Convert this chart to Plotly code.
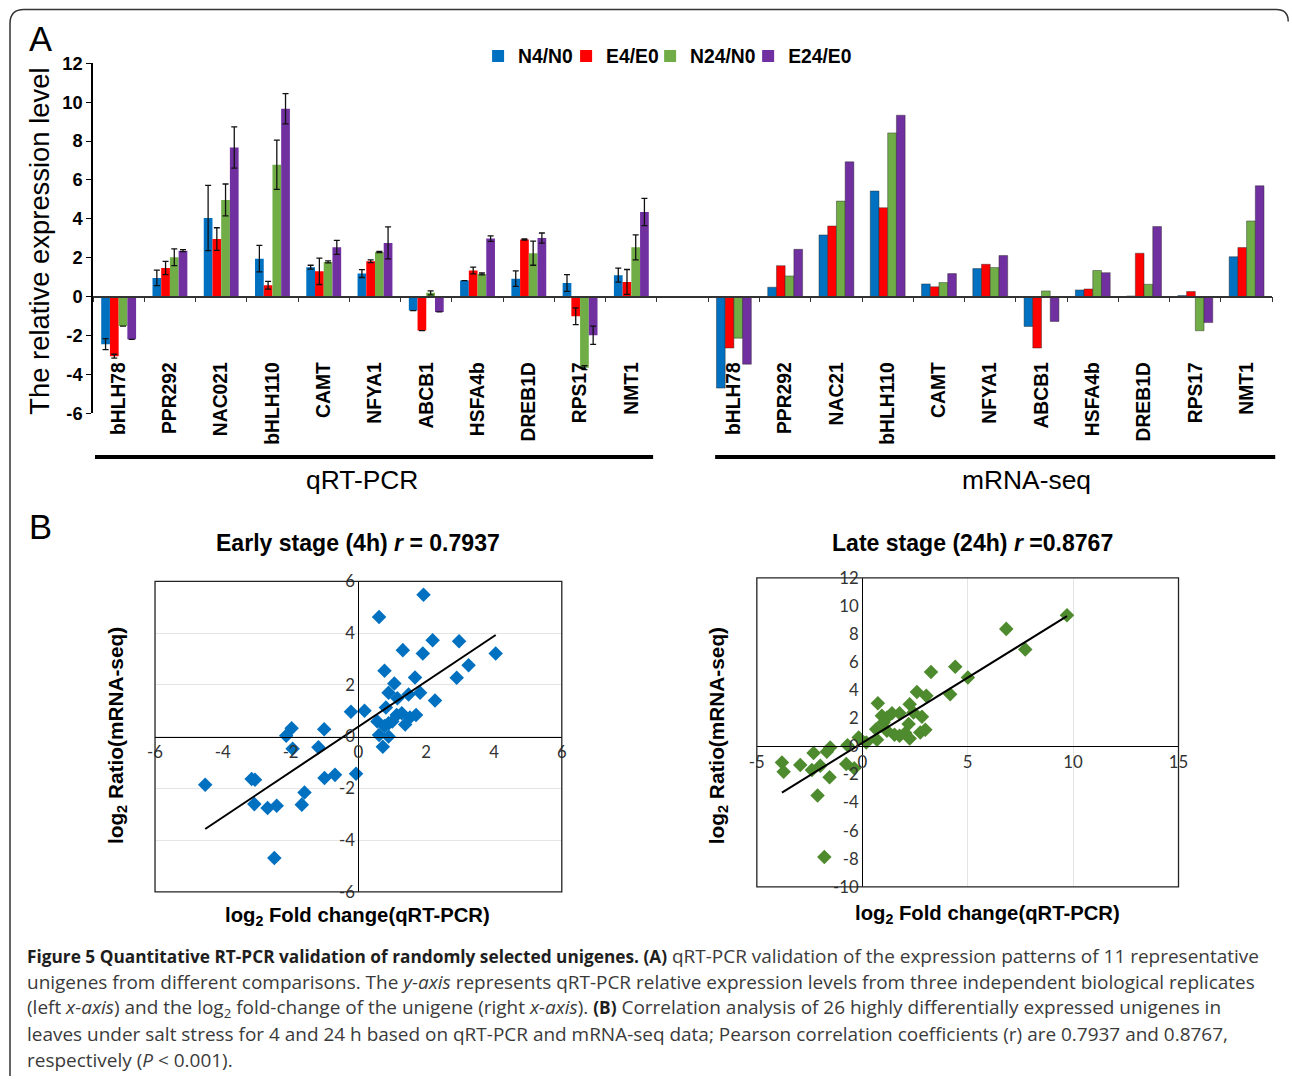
import numpy as np
import plotly.graph_objects as go

# The page is photographed with a body margin and a slight downscale;
# compensate so that figure elements land at the reference pixel positions.
OX, OY = 8, 9.5
SX, SY = 0.986, 0.984
FS = 1 / 0.985
W = int(round((1292 - OX) / SX))
H = int(round((1081 - OY) / SY))
def px(x): return ((x - OX) / SX) / W
def py(y): return 1 - ((y - OY) / SY) / H
def fs(s): return round(s * FS, 2)

# ---------------- data: panel A ----------------
series = ["N4/N0", "E4/E0", "N24/N0", "E24/E0"]
colors = ["#0070C0", "#FF0000", "#70AD47", "#7030A0"]

genes_qpcr = ["bHLH78", "PPR292", "NAC021", "bHLH110", "CAMT", "NFYA1",
              "ABCB1", "HSFA4b", "DREB1D", "RPS17", "NMT1"]
genes_seq = ["bHLH78", "PPR292", "NAC21", "bHLH110", "CAMT", "NFYA1",
             "ABCB1", "HSFA4b", "DREB1D", "RPS17", "NMT1"]

qpcr_N4 = [-2.45, 0.96, 4.04, 1.95, 1.51, 1.18, -0.72, 0.82, 0.92, 0.70, 1.10]
qpcr_E4 = [-3.07, 1.47, 2.96, 0.58, 1.30, 1.82, -1.75, 1.34, 2.93, -1.01, 0.75]
qpcr_N24 = [-1.52, 2.02, 4.97, 6.78, 1.78, 2.29, 0.19, 1.16, 2.23, -3.66, 2.53]
qpcr_E24 = [-2.20, 2.36, 7.67, 9.66, 2.53, 2.76, -0.79, 2.98, 3.01, -1.99, 4.35]

err_N4 = [0.28, 0.40, 1.68, 0.68, 0.10, 0.20, 0.0, 0.0, 0.40, 0.43, 0.36]
err_E4 = [0.10, 0.34, 0.58, 0.20, 0.68, 0.07, 0.0, 0.17, 0.03, 0.43, 0.64]
err_N24 = [0.0, 0.43, 0.82, 1.27, 0.05, 0.03, 0.10, 0.05, 0.62, 0.10, 0.64]
err_E24 = [0.0, 0.05, 1.06, 0.78, 0.36, 0.82, 0.0, 0.14, 0.26, 0.47, 0.70]

seq_N4 = [-4.71, 0.48, 3.17, 5.43, 0.65, 1.44, -1.54, 0.34, 0.03, 0.05, 2.05]
seq_E4 = [-2.65, 1.59, 3.63, 4.57, 0.50, 1.66, -2.65, 0.39, 2.23, 0.26, 2.52]
seq_N24 = [-2.14, 1.06, 4.91, 8.42, 0.72, 1.49, 0.29, 1.34, 0.63, -1.76, 3.89]
seq_E24 = [-3.48, 2.43, 6.93, 9.33, 1.18, 2.11, -1.28, 1.23, 3.60, -1.34, 5.70]

y_ticks_A = [-6, -4, -2, 0, 2, 4, 6, 8, 10, 12]

# ---------------- data: panel B ----------------
early_qpcr = [1.92, 0.61, 2.19, 2.97, 1.31, 1.90, 4.05, 3.25, 0.77, 1.67, 2.90, 1.06,
              0.89, 1.82, 1.15, 1.48, 2.26, -0.22, 0.18, 0.81, 1.13, 1.28, 1.70, 1.52,
              0.56, 0.89, 0.77, 1.38, 1.00, 0.61, 0.89, 0.72, -1.97, -2.13, -1.94, -1.01,
              -1.18, -4.52, -3.15, -3.05, -1.00, -0.69, -0.07, -1.59, -3.07, -1.67, -2.68,
              -2.41, -2.48]
early_seq = [5.48, 4.62, 3.72, 3.68, 3.34, 3.21, 3.21, 2.76, 2.54, 2.28, 2.27, 2.05,
             1.69, 1.69, 1.48, 1.63, 1.39, 0.96, 1.00, 1.12, 0.83, 0.90, 0.83, 0.74,
             0.58, 0.51, 0.41, 0.47, 0.58, 0.06, 0.00, -0.39, 0.32, 0.03, -0.47, 0.28,
             -0.41, -1.86, -1.64, -1.67, -1.60, -1.48, -1.44, -2.16, -2.61, -2.63, -2.76,
             -2.67, -4.69]

late_qpcr = [9.71, 6.83, 7.73, 4.41, 3.26, 5.01, 4.17, 2.59, 3.04, 0.74, 2.25, 1.41,
             1.77, 0.93, 1.17, 2.83, 2.43, 2.20, 1.01, 0.66, 1.17, 1.53, 1.77, 2.04,
             2.25, 2.75, 2.99, 0.70, 0.19, -0.17, -0.70, -1.52, -1.68, -2.31, -3.81,
             -3.73, -2.94, -1.99, -2.39, -0.76, -0.38, -1.55, -2.12, -1.80]
late_seq = [9.34, 8.37, 6.91, 5.68, 5.30, 4.90, 3.71, 3.88, 3.60, 3.08, 3.00, 2.37,
            2.37, 2.18, 2.06, 2.11, 2.41, 1.59, 1.70, 1.23, 1.11, 0.83, 0.76, 0.95,
            0.57, 0.99, 1.18, 0.47, 0.28, 0.64, 0.09, -0.07, -0.38, -0.47, -1.14,
            -1.80, -1.32, -1.37, -1.68, -1.25, -1.56, -2.20, -3.50, -7.88]

early_ticks = [-6, -4, -2, 0, 2, 4, 6]
late_xticks = [-5, 0, 5, 10, 15]
late_yticks = [-10, -8, -6, -4, -2, 0, 2, 4, 6, 8, 10, 12]

# ---------------- figure ----------------
fig = go.Figure()

x_left = list(range(len(genes_qpcr)))
x_right = [len(genes_qpcr) + 1 + i for i in range(len(genes_seq))]
n_cat = len(genes_qpcr) + 1 + len(genes_seq)
boundaries = [i - 0.5 for i in range(n_cat + 1)]

qpcr_vals = [qpcr_N4, qpcr_E4, qpcr_N24, qpcr_E24]
qpcr_errs = [err_N4, err_E4, err_N24, err_E24]
seq_vals = [seq_N4, seq_E4, seq_N24, seq_E24]

legend_x_px = [478, 566, 650, 748]
for k, (name, col) in enumerate(zip(series, colors)):
    leg = "legend" if k == 0 else f"legend{k+1}"
    fig.add_trace(go.Bar(
        x=x_left, y=qpcr_vals[k], name=name, marker=dict(color=col, line=dict(width=0)),
        offsetgroup=name, legendgroup=name, legend=leg,
        error_y=dict(type="data", array=qpcr_errs[k], color="#111", thickness=1.3, width=3),
        xaxis="x", yaxis="y"))
    fig.add_trace(go.Bar(
        x=x_right, y=seq_vals[k], name=name,
        marker=dict(color=col, line=dict(width=0.8, color="rgba(40,40,40,0.55)")),
        offsetgroup=name, legendgroup=name, showlegend=False,
        xaxis="x", yaxis="y"))

# helper (empty) traces to register the overlay axes
fig.add_trace(go.Scatter(x=[], y=[], xaxis="x2", yaxis="y", showlegend=False, hoverinfo="skip"))
fig.add_trace(go.Scatter(x=[], y=[], xaxis="x3", yaxis="y", showlegend=False, hoverinfo="skip"))

def fit_line(xs, ys):
    m, b = np.polyfit(xs, ys, 1)
    xx = np.array([min(xs), max(xs)])
    return xx, m * xx + b

fig.add_trace(go.Scatter(x=early_qpcr, y=early_seq, mode="markers",
                         marker=dict(symbol="diamond", size=fs(11), color="#0070C0"),
                         xaxis="x4", yaxis="y4", showlegend=False))
lx, ly = fit_line(early_qpcr, early_seq)
fig.add_trace(go.Scatter(x=lx, y=ly, mode="lines", line=dict(color="black", width=2),
                         xaxis="x4", yaxis="y4", showlegend=False))

fig.add_trace(go.Scatter(x=late_qpcr, y=late_seq, mode="markers",
                         marker=dict(symbol="diamond", size=fs(11), color="#4E8A2E"),
                         xaxis="x5", yaxis="y5", showlegend=False))
lx2, ly2 = fit_line(late_qpcr, late_seq)
fig.add_trace(go.Scatter(x=lx2, y=ly2, mode="lines", line=dict(color="black", width=2),
                         xaxis="x5", yaxis="y5", showlegend=False))

AR = "Liberation Sans"
ytickfont = dict(family=AR, size=fs(18), color="black", weight="bold")
xlabfont = dict(family=AR, size=fs(19), color="black", weight="bold")
legfont = dict(family=AR, size=fs(19), color="black", weight="bold")
tickfontB = dict(family="Lato", size=fs(16.5), color="#333")

def labels(vals):
    return [str(v) for v in vals]

xdomA = [px(93), px(1272)]
ydomA = [py(413), py(62)]

xd4 = [px(155), px(561.7)]; yd4 = [py(893.3), py(581.7)]
xd5 = [px(756.7), px(1178.3)]; yd5 = [py(888.3), py(578.3)]
r4x = [-6, 6]; r4y = [-6, 6]
r5x = [-5, 15]; r5y = [-10, 12]
def pos_at_zero(dom, rng):
    return dom[0] + (0 - rng[0]) / (rng[1] - rng[0]) * (dom[1] - dom[0])

layout = dict(
    width=W, height=H, margin=dict(l=0, r=0, t=0, b=0), autosize=False,
    paper_bgcolor="white", plot_bgcolor="rgba(0,0,0,0)",
    barmode="group", bargap=0.32, bargroupgap=0,
    xaxis=dict(domain=xdomA, range=[-0.5, n_cat - 0.5], showline=False, showticklabels=False,
               ticks="", showgrid=False, zeroline=False, anchor="y"),
    xaxis2=dict(overlaying="x", range=[-0.5, n_cat - 0.5], anchor="free", position=py(296),
                showline=True, linecolor="#333", linewidth=1.5, ticks="outside", ticklen=5,
                tickcolor="#333", tickwidth=1.3, tickmode="array", tickvals=boundaries,
                showticklabels=False, showgrid=False, zeroline=False),
    xaxis3=dict(overlaying="x", range=[-0.5, n_cat - 0.5], anchor="free", position=py(357),
                showline=False, ticks="", tickmode="array", tickvals=x_left + x_right,
                ticktext=genes_qpcr + genes_seq, tickangle=-90, tickfont=xlabfont,
                showgrid=False, zeroline=False),
    yaxis=dict(domain=ydomA, range=[-6, 12], tickmode="array", tickvals=y_ticks_A,
               ticktext=labels(y_ticks_A),
               showline=True, linecolor="black", linewidth=1.5, ticks="outside", ticklen=5,
               tickcolor="black", tickfont=ytickfont, showgrid=False, zeroline=False,
               anchor="x"),
    xaxis4=dict(domain=xd4, range=r4x, anchor="free", position=pos_at_zero(yd4, r4y),
                tickmode="array", tickvals=early_ticks, ticktext=labels(early_ticks),
                showline=True, linecolor="black",
                linewidth=1.3, ticks="", showgrid=False, zeroline=False, tickfont=tickfontB),
    yaxis4=dict(domain=yd4, range=r4y, anchor="free", position=pos_at_zero(xd4, r4x),
                tickmode="array", tickvals=early_ticks, ticktext=labels(early_ticks),
                showline=True, linecolor="black",
                linewidth=1.3, ticks="", showgrid=True, gridcolor="#e4e4e4", gridwidth=1.2,
                zeroline=False, tickfont=tickfontB),
    xaxis5=dict(domain=xd5, range=r5x, anchor="free", position=pos_at_zero(yd5, r5y),
                tickmode="array", tickvals=late_xticks, ticktext=labels(late_xticks),
                showline=True, linecolor="black",
                linewidth=1.3, ticks="", showgrid=True, gridcolor="#e4e4e4", gridwidth=1.2,
                zeroline=False, tickfont=tickfontB),
    yaxis5=dict(domain=yd5, range=r5y, anchor="free", position=pos_at_zero(xd5, r5x),
                tickmode="array", tickvals=late_yticks, ticktext=labels(late_yticks),
                showline=True, linecolor="black",
                linewidth=1.3, ticks="", showgrid=False, zeroline=False, tickfont=tickfontB),
)
for k in range(4):
    key = "legend" if k == 0 else f"legend{k+1}"
    layout[key] = dict(orientation="h", x=px(legend_x_px[k]), y=py(55), xanchor="left",
                       yanchor="middle", font=legfont, bgcolor="rgba(0,0,0,0)",
                       itemwidth=30, borderwidth=0)
fig.update_layout(**layout)

# ---------------- shapes ----------------
shapes = []
for xr, yr in (("x4", "y4"), ("x5", "y5")):
    shapes.append(dict(type="rect", xref=f"{xr} domain", yref=f"{yr} domain",
                       x0=0, x1=1, y0=0, y1=1, line=dict(color="#222", width=1.3)))
shapes.append(dict(type="line", xref="paper", yref="paper", x0=px(95), x1=px(653),
                   y0=py(457), y1=py(457), line=dict(color="black", width=4)))
shapes.append(dict(type="line", xref="paper", yref="paper", x0=px(715), x1=px(1275),
                   y0=py(457), y1=py(457), line=dict(color="black", width=4)))
border = (f"M {px(10)},{py(1078)} L {px(10)},{py(22)} Q {px(10)},{py(8)} {px(24)},{py(8)} "
          f"L {px(1276)},{py(8)} Q {px(1288)},{py(8)} {px(1288)},{py(20)}")
shapes.append(dict(type="path", xref="paper", yref="paper", path=border,
                   line=dict(color="#333", width=1.5)))
fig.update_layout(shapes=shapes)

# ---------------- annotations ----------------
ann = []
def text(x, y, s, size, angle=0, family=AR, color="black", xanchor="center"):
    ann.append(dict(x=px(x), y=py(y), xref="paper", yref="paper", text=s, showarrow=False,
                    textangle=angle, xanchor=xanchor, yanchor="middle",
                    font=dict(family=family, size=fs(size), color=color)))

text(40, 38, "A", 34)
text(40, 527, "B", 34)
text(40, 241, "The relative expression level", 27, angle=-90)
text(362, 480, "qRT-PCR", 26)
text(1026, 480, "mRNA-seq", 26)
text(358, 543, "<b>Early stage (4h) <i>r</i> = 0.7937</b>", 22.7)
text(972, 543, "<b>Late stage (24h) <i>r</i> =0.8767</b>", 22.7)
text(117, 737, "<b>log<sub>2</sub> Ratio(mRNA-seq)</b>", 20.5, angle=-90)
text(357, 918, "<b>log<sub>2</sub> Fold change(qRT-PCR)</b>", 20)
text(718, 737, "<b>log<sub>2</sub> Ratio(mRNA-seq)</b>", 20.5, angle=-90)
text(987, 916, "<b>log<sub>2</sub> Fold change(qRT-PCR)</b>", 20)

def B(s):
    return f'<span style="font-size:{fs(17)}px;color:#1e1e1e"><b>{s}</b></span>'

caption = [
    B("Figure 5 Quantitative RT-PCR validation of randomly selected unigenes. (A)") +
    " qRT-PCR validation of the expression patterns of 11 representative",
    "unigenes from different comparisons. The <i>y-axis</i> represents qRT-PCR relative "
    "expression levels from three independent biological replicates",
    "(left <i>x-axis</i>) and the log<sub>2</sub> fold-change of the unigene (right "
    "<i>x-axis</i>). " + B("(B)") + " Correlation analysis of 26 highly differentially "
    "expressed unigenes in",
    "leaves under salt stress for 4 and 24 h based on qRT-PCR and mRNA-seq data; Pearson "
    "correlation coefficients (r) are 0.7937 and 0.8767,",
    "respectively (<i>P</i> &lt; 0.001).",
]
for i, line in enumerate(caption):
    text(25, 958 + 26 * i, line, 18.7, family="Open Sans", color="#3a3a3a", xanchor="left")

fig.update_layout(annotations=ann)
fig.write_html("out.html")
